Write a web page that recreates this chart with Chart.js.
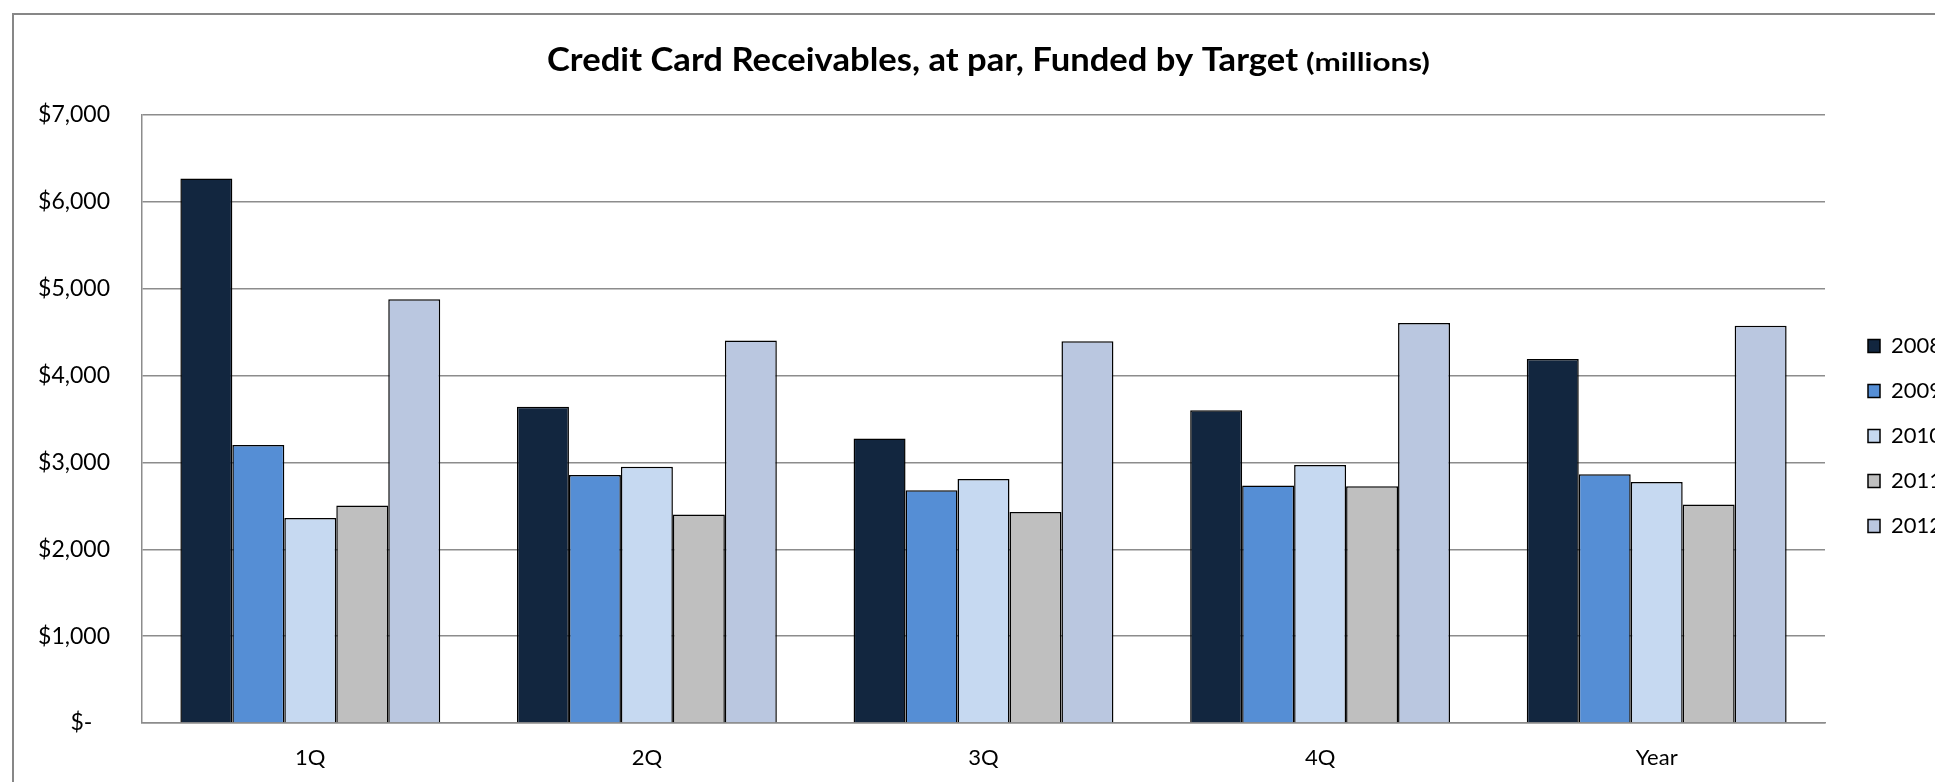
<!DOCTYPE html>
<html>
<head>
<meta charset="utf-8">
<script src="https://cdn.jsdelivr.net/npm/chart.js@4.4.1/dist/chart.umd.min.js"></script>
<style>
  html, body { margin: 0; padding: 0; background: #ffffff; overflow: hidden; }
  #wrap { position: relative; width: 1935px; height: 782px; overflow: hidden; }
  #frame { position: absolute; left: 12px; top: 13px; width: 3000px; height: 3000px;
           border-left: 2px solid #878787; border-top: 2px solid #878787; box-sizing: border-box; }
  #c { position: absolute; left: 0; top: 0; }
</style>
</head>
<body>
<div id="wrap">
  <div id="frame"></div>
  <canvas id="c" width="1935" height="782"></canvas>
</div>
<script>
// ---- data ----
const categories = ['1Q', '2Q', '3Q', '4Q', 'Year'];
const seriesNames = ['2008', '2009', '2010', '2011', '2012'];
const values2008 = [6270, 3640, 3275, 3600, 4190];
const values2009 = [3200, 2855, 2680, 2735, 2865];
const values2010 = [2360, 2950, 2810, 2970, 2775];
const values2011 = [2505, 2400, 2430, 2725, 2515];
const values2012 = [4880, 4405, 4395, 4605, 4575];
const yTickLabels = ['$-', '$1,000', '$2,000', '$3,000', '$4,000', '$5,000', '$6,000', '$7,000'];
const titleMain = 'Credit Card Receivables, at par, Funded by Target';
const titleUnit = '(millions)';

// ---- styling ----
const colors = ['#12263F', '#558ED5', '#C6D9F1', '#BFBFBF', '#BAC7E0'];
const allValues = [values2008, values2009, values2010, values2011, values2012];
const FONT = 'Lato, "Open Sans", "DejaVu Sans", sans-serif';
const target = { left: 142, right: 1825, top: 115, bottom: 723 };
const legendTarget = { x: 1868, firstCenterY: 346 };

const titlePlugin = {
  id: 'customTitle',
  afterDraw(chart) {
    const ctx = chart.ctx;
    ctx.save();
    ctx.fillStyle = '#000000';
    ctx.textBaseline = 'alphabetic';
    ctx.textAlign = 'left';
    ctx.font = 'bold 32px ' + FONT;
    let w = ctx.measureText(titleMain).width;
    let sx = 751 / w;
    ctx.save();
    ctx.translate(547, 71);
    ctx.scale(sx, 1);
    ctx.fillText(titleMain, 0, 0);
    ctx.restore();
    ctx.font = 'bold 25px ' + FONT;
    w = ctx.measureText(titleUnit).width;
    sx = 124 / w;
    ctx.save();
    ctx.translate(1306, 71);
    ctx.scale(sx, 1);
    ctx.fillText(titleUnit, 0, 0);
    ctx.restore();
    ctx.restore();
  }
};

const legendShift = {
  id: 'legendShift',
  afterLayout(chart) {
    const lg = chart.legend;
    if (!lg || !lg.columnSizes || !lg.columnSizes.length) return;
    const pad = lg.options.labels.padding;
    const dx = legendTarget.x - (lg.left + pad);
    lg.left += dx; lg.right += dx;
    const itemH = Math.max(lg.options.labels.font.size || 22, lg.options.labels.boxHeight || 0);
    const curY = (lg.top + pad + lg.bottom - lg.columnSizes[0].height) / 2;
    const wantY = legendTarget.firstCenterY - itemH / 2;
    const dy = wantY - curY;
    lg.top += dy; lg.bottom += dy;
  }
};

const datasets = seriesNames.map((name, i) => ({
  label: name,
  data: allValues[i],
  backgroundColor: colors[i],
  borderColor: '#000000',
  borderWidth: 1.5,
  categoryPercentage: 0.772,
  barPercentage: 1.0
}));

const chart = new Chart(document.getElementById('c'), {
  type: 'bar',
  data: { labels: categories, datasets: datasets },
  plugins: [titlePlugin, legendShift],
  options: {
    responsive: false,
    animation: false,
    layout: { padding: { left: 20, right: 10, top: 100, bottom: 10 } },
    plugins: {
      title: { display: false },
      tooltip: { enabled: false },
      legend: {
        position: 'right',
        align: 'center',
        labels: {
          color: '#000000',
          font: { family: FONT, size: 22 },
          boxWidth: 12,
          boxHeight: 13,
          padding: 23
        }
      }
    },
    scales: {
      x: {
        grid: { display: false, drawTicks: false },
        border: { display: true, color: '#8c8c8c', width: 1.5 },
        ticks: { color: '#000000', font: { family: FONT, size: 22 }, padding: 22 }
      },
      y: {
        min: 0,
        max: 7000,
        grid: { color: '#8c8c8c', lineWidth: 1.5, drawTicks: false },
        border: { display: true, color: '#8c8c8c', width: 1.5 },
        ticks: {
          stepSize: 1000,
          color: '#000000',
          font: { family: FONT, size: 23 },
          padding: 32,
          callback: (v) => {
            const idx = Math.round(v / 1000);
            const lbl = yTickLabels[idx];
            return idx === 0 ? lbl + '   ' : lbl;
          }
        }
      }
    }
  }
});

for (let k = 0; k < 3; k++) {
  const ca = chart.chartArea;
  const p = chart.options.layout.padding;
  p.left += target.left - ca.left;
  p.top += target.top - ca.top;
  p.bottom += ca.bottom - target.bottom;
  p.right += ca.right - target.right;
  chart.update('none');
}
</script>
</body>
</html>
